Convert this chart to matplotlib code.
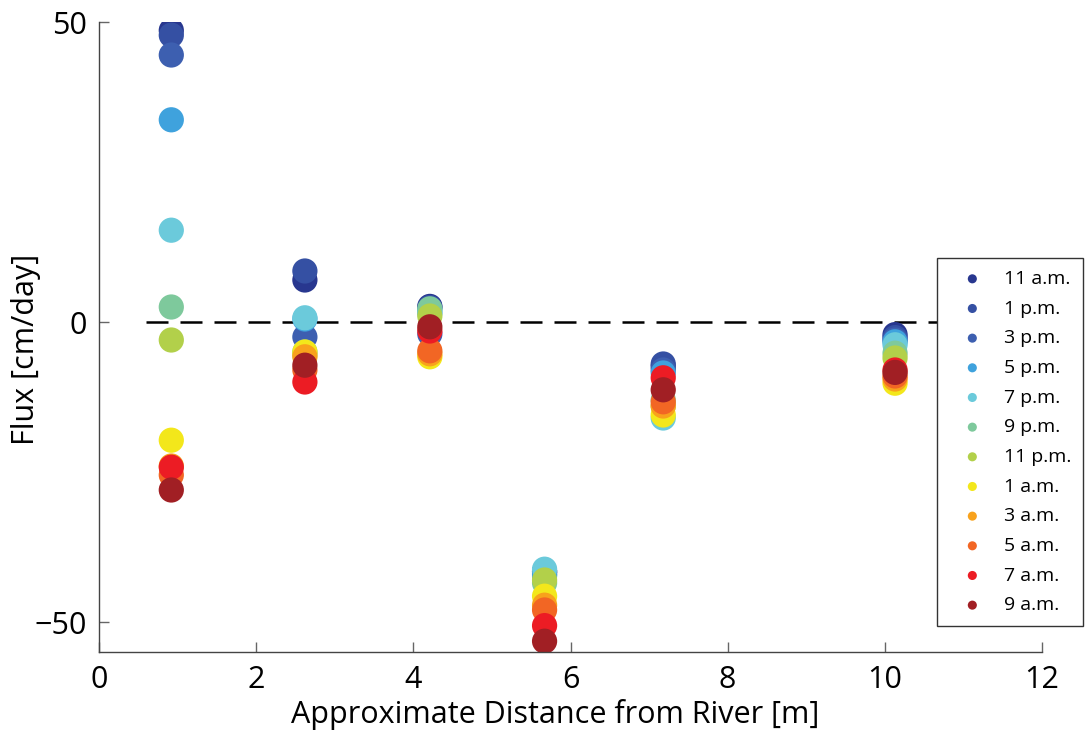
import matplotlib.pyplot as plt

plt.rcParams['font.family'] = ['Open Sans', 'DejaVu Sans']

# distance of each piezometer from the river [m]
distance = [0.92, 2.62, 4.21, 5.67, 7.18, 10.13]

labels = ['11 a.m.', '1 p.m.', '3 p.m.', '5 p.m.', '7 p.m.', '9 p.m.',
          '11 p.m.', '1 a.m.', '3 a.m.', '5 a.m.', '7 a.m.', '9 a.m.']
colors = ['#28378f', '#3550a3', '#3d5fb0', '#3fa2dd', '#6bcadb', '#7ec99c',
          '#b2d04a', '#f3e71b', '#f8a21c', '#f26624', '#ec1c24', '#a11f24']

# flux [cm/day], one row per time of day, one value per distance
flux = [
    [48.6, 7.0, 2.6, -41.6, -7.4, -2.1],
    [47.8, 8.5, 2.4, -41.6, -7.0, -2.6],
    [44.5, -2.5, -2.0, -42.0, -8.0, -3.0],
    [33.7, 0.5, 1.5, -42.3, -8.5, -3.3],
    [15.3, 0.7, 1.8, -41.2, -16.0, -3.8],
    [2.5, -5.0, 2.2, -43.5, -13.0, -5.2],
    [-3.0, -5.5, 1.0, -43.0, -14.0, -6.0],
    [-19.7, -5.0, -5.8, -45.7, -15.5, -10.2],
    [-24.0, -5.8, -5.3, -47.2, -14.0, -9.5],
    [-25.5, -8.0, -4.8, -48.0, -13.3, -9.0],
    [-24.2, -10.0, -1.5, -50.6, -9.3, -8.0],
    [-28.0, -7.2, -0.8, -53.2, -11.3, -8.4],
]

fig = plt.figure(figsize=(10.85, 7.38), dpi=100)
ax = fig.add_axes([99 / 1085, 86 / 738, 943 / 1085, 630 / 738])

ax.plot([0.6, 12], [0, 0], color='black', lw=1.8, linestyle=(0, (8.8, 4.8)), zorder=1)

for lab, col, f in zip(labels, colors, flux):
    ax.scatter(distance, f, s=330, color=col, edgecolors='none', label=lab, zorder=2)

ax.set_xlim(0, 12)
ax.set_ylim(-55, 50)
ax.set_xticks([0, 2, 4, 6, 8, 10, 12])
ax.set_yticks([-50, 0, 50])
ax.set_yticklabels(['\u221250', '0', '50'])

for s in ['top', 'right']:
    ax.spines[s].set_visible(False)
for s in ['left', 'bottom']:
    ax.spines[s].set_color('#444444')
    ax.spines[s].set_linewidth(1.0)
ax.tick_params(direction='in', length=7, width=1, color='#666666', labelsize=22, pad=9)

ax.set_xlabel('Approximate Distance from River [m]', fontsize=22)
ax.xaxis.set_label_coords(0.4836, -0.074)
ax.set_ylabel('Flux [cm/day]', fontsize=22)
ax.yaxis.set_label_coords(-0.062, 0.48)

leg = ax.legend(loc='upper left', bbox_to_anchor=(0.889, 0.625), borderaxespad=0,
                fontsize=14, markerscale=0.36, frameon=True, fancybox=False,
                framealpha=1, edgecolor='#333333', labelspacing=0.6,
                handletextpad=0.45, borderpad=0.6, handlelength=2.4)
leg.get_frame().set_linewidth(1.0)
leg.set_zorder(5)

plt.savefig('out.png', dpi=100, facecolor='white')
